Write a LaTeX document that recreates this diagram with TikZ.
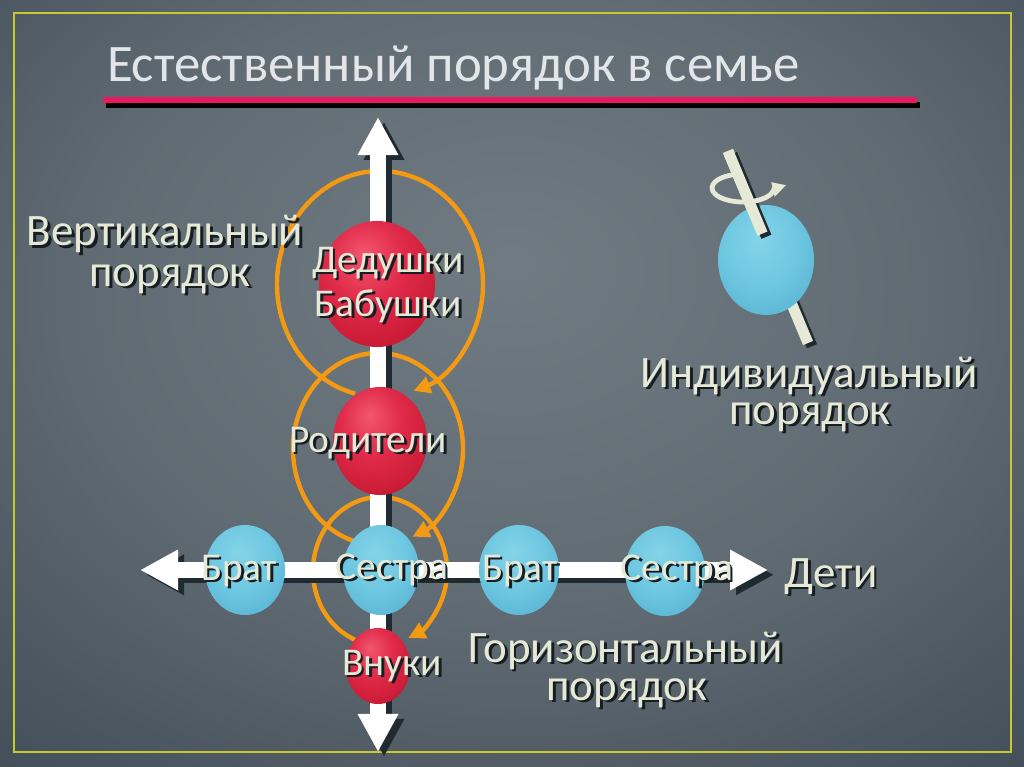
\documentclass[tikz,border=0pt]{standalone}
\usepackage{fontspec}
\setmainfont{Carlito}
\usetikzlibrary{shapes.geometric,arrows.meta,calc}
\definecolor{cream}{HTML}{E6E9D6}
\definecolor{tshadow}{HTML}{161E24}
\definecolor{orng}{HTML}{F39A12}
\definecolor{framecol}{HTML}{C9C92E}
\definecolor{titlered}{HTML}{E8195E}
\definecolor{axshadow}{HTML}{1F2A31}
\definecolor{titlecol}{HTML}{E2E6E8}
\pgfdeclareradialshading{bgsh}{\pgfpoint{0bp}{8bp}}{rgb(0bp)=(0.44,0.48,0.51); rgb(20bp)=(0.38,0.42,0.45); rgb(40bp)=(0.25,0.30,0.34); rgb(60bp)=(0.14,0.18,0.22); rgb(75bp)=(0.10,0.14,0.17)}
\pgfdeclareradialshading{redsph}{\pgfpoint{-6bp}{12bp}}{rgb(0bp)=(0.95,0.34,0.44); rgb(16bp)=(0.88,0.17,0.29); rgb(36bp)=(0.77,0.09,0.19); rgb(52bp)=(0.56,0.04,0.11); rgb(75bp)=(0.56,0.04,0.11)}
\pgfdeclareradialshading{bluesph}{\pgfpoint{-4bp}{10bp}}{rgb(0bp)=(0.52,0.83,0.91); rgb(20bp)=(0.43,0.78,0.88); rgb(40bp)=(0.32,0.68,0.81); rgb(52bp)=(0.21,0.52,0.66); rgb(75bp)=(0.21,0.52,0.66)}
\newcommand\shd[1]{\leavevmode\rlap{\hspace{0.07cm}\raisebox{-0.07cm}{\textcolor{tshadow}{#1}}}#1}
\begin{document}
\begin{tikzpicture}[x=0.025cm, y=-0.025cm,
  ball/.style={ellipse, inner sep=0pt, draw=none},
  red ball/.style={ball, shading=redsph},
  blue ball/.style={ball, shading=bluesph},
  lbl/.style={text=cream, anchor=base, font=\fontsize{32}{36}\selectfont, inner sep=0pt},
  slbl/.style={lbl, font=\fontsize{28}{32}\selectfont},
  axis/.style={line width=0.4cm, draw=white, {Triangle[width=0.95cm,length=0.95cm]}-{Triangle[width=0.95cm,length=0.95cm]}},
  axis shadow/.style={axis, draw=axshadow, transform canvas={xshift=0.15cm, yshift=-0.12cm}},
  cycle arrow/.style={draw=orng, line width=0.11cm, -{Triangle[width=0.42cm,length=0.42cm]}},
  rod/.style={draw=cream, line width=0.27cm},
  rod shadow/.style={draw=axshadow, line width=0.27cm, transform canvas={xshift=0.1cm, yshift=-0.08cm}},
  ring/.style={draw=cream, line width=0.12cm}
]
% background
\useasboundingbox (0,0) rectangle (1024,767);
\shade[shading=bgsh] (0,0) rectangle (1024,767);
\draw[framecol, line width=0.05cm] (14,13) rectangle (1011,752);
% title
\node[anchor=base west, text=titlecol, font=\fontsize{37.5}{40}\selectfont, inner sep=0pt] (title) at (107,82) {Естественный порядок в семье};
\coordinate (rl1) at (103,100);
\coordinate (rl2) at (917,100);
\draw[black, line width=0.15cm, transform canvas={xshift=0.08cm, yshift=-0.12cm}] (rl1) -- (rl2);
\draw[titlered, line width=0.15cm] (rl1) -- (rl2);
% circle centres
\coordinate (c1) at (380,284);
\coordinate (c2) at (378,449);
\coordinate (c3) at (380,571);
% orange cycle arrows
\draw[cycle arrow] ($(c1)+(104:103 and 113)$) arc[start angle=104, end angle=431, x radius=103, y radius=113];
\draw[cycle arrow] ($(c2)+(105:85 and 96)$) arc[start angle=105, end angle=426, x radius=85, y radius=96];
\draw[cycle arrow] ($(c3)+(112:67 and 74)$) arc[start angle=112, end angle=425, x radius=67, y radius=74];
% axes
\coordinate (vtop) at (378,117);
\coordinate (vbot) at (378,752);
\coordinate (hl) at (140,570);
\coordinate (hr) at (768,570);
\draw[axis shadow] (vtop) -- (vbot);
\draw[axis shadow] (hl) -- (hr);
\draw[axis] (vtop) -- (vbot);
\draw[axis] (hl) -- (hr);
% individual rod (lower part)
\coordinate (rt) at (728,151);
\coordinate (rb) at (808,343);
\draw[rod shadow] (rt) -- (rb);
\draw[rod] (rt) -- (rb);
% spheres
\node[red ball, minimum width=2.9cm, minimum height=3.15cm] (gp) at (377,284) {};
\node[red ball, minimum width=2.35cm, minimum height=2.7cm] (par) at (380,441) {};
\node[red ball, minimum width=1.6cm, minimum height=1.9cm] (gc) at (378,666) {};
\node[blue ball, minimum width=1.9cm, minimum height=2.25cm] (sis1) at (381,570) {};
\node[blue ball, minimum width=2.0cm, minimum height=2.25cm] (bro1) at (245,570) {};
\node[blue ball, minimum width=2.0cm, minimum height=2.25cm] (bro2) at (519,570) {};
\node[blue ball, minimum width=2.0cm, minimum height=2.25cm] (sis2) at (665,571) {};
\node[blue ball, minimum width=2.4cm, minimum height=2.75cm] (ind) at (766,260) {};
% rod upper part over the sphere, and rotation ring
\coordinate (rc) at (743,188);
\draw[rod shadow] (rt) -- ($(rt)!0.43!(rb)$);
\draw[ring] ($(rc)+(-95:31 and 14)$) arc[start angle=-95, end angle=-200, x radius=31, y radius=14];
\draw[rod] (rt) -- ($(rt)!0.43!(rb)$);
\draw[ring, -{Triangle[width=0.38cm,length=0.32cm]}] ($(rc)+(-200:31 and 14)$) arc[start angle=-200, end angle=-385, x radius=31, y radius=14];
% labels
\node[slbl] (tgp1) at (388,272) {\shd{Дедушки}};
\node[slbl] (tgp2) at (388,316) {\shd{Бабушки}};
\node[slbl] (tpar) at (368,452) {\shd{Родители}};
\node[slbl] (tsis1) at (392,579) {\shd{Сестра}};
\node[slbl] (tbro1) at (239,580) {\shd{Брат}};
\node[slbl] (tbro2) at (520,580) {\shd{Брат}};
\node[slbl] (tsis2) at (677,580) {\shd{Сестра}};
\node[slbl] (tgc) at (392,675) {\shd{Внуки}};
\node[lbl] (tv1) at (165,246) {\shd{Вертикальный}};
\node[lbl] (tv2) at (170,286) {\shd{порядок}};
\node[lbl] (ti1) at (809,387) {\shd{Индивидуальный}};
\node[lbl] (ti2) at (810,424) {\shd{порядок}};
\node[lbl] (th1) at (626,662) {\shd{Горизонтальный}};
\node[lbl] (th2) at (627,700) {\shd{порядок}};
\node[lbl] (tkids) at (831,587) {\shd{Дети}};
\end{tikzpicture}
\end{document}
